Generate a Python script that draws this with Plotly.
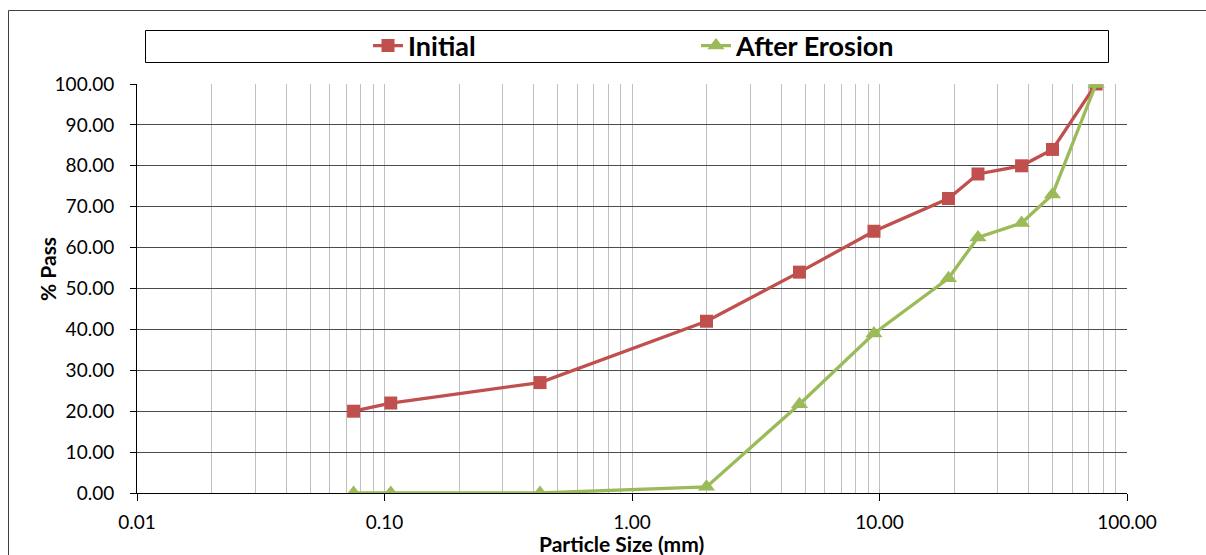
import plotly.graph_objects as go

# Data
sizes_mm = [0.075, 0.106, 0.425, 2.0, 4.75, 9.5, 19.0, 25.0, 37.5, 50.0, 75.0]
initial_pass = [20, 22, 27, 42, 54, 64, 72, 78, 80, 84, 100]
after_erosion_pass = [0, 0, 0, 1.5, 21.7, 39, 52.5, 62.5, 66, 73, 100]

x_major_vals = [0.01, 0.1, 1, 10, 100]
x_major_text = ["0.01", "0.10", "1.00", "10.00", "100.00"]
y_tick_vals = [0, 10, 20, 30, 40, 50, 60, 70, 80, 90, 100]

RED = "#C0504D"
GREEN = "#9BBB59"
FONT = "Lato"

# minor grid positions (2..9 in each decade)
minor_vals = [m * d for d in [0.01, 0.1, 1, 10] for m in range(2, 10)]

# figure and plot area in page pixels (body margin removed below)
W, H = 1206, 555
PX_L, PX_R, PX_T, PX_B = 137, 1127, 84, 493
L, T, R, B = PX_L, PX_T, W - PX_R, H - PX_B
PW = PX_R - PX_L
PH = PX_B - PX_T


def px_x(p):
    return (p - PX_L) / PW


def px_y(p):
    return (PX_B - p) / PH


fig = go.Figure()
fig.add_trace(go.Scatter(
    x=sizes_mm, y=initial_pass, name="Initial", mode="lines+markers",
    line=dict(color=RED, width=3.3),
    marker=dict(symbol="square", size=13, color=RED),
    legendwidth=283,
))
fig.add_trace(go.Scatter(
    x=sizes_mm, y=after_erosion_pass, name="After Erosion", mode="lines+markers",
    line=dict(color=GREEN, width=3.3),
    marker=dict(symbol="triangle-up", size=15, color=GREEN),
))

fig.update_layout(
    width=W, height=H,
    margin=dict(l=L, r=R, t=T, b=B, autoexpand=False),
    paper_bgcolor="white", plot_bgcolor="white",
    font=dict(family=FONT, color="black", size=19),
    showlegend=True,
    legend=dict(
        orientation="h", x=px_x(368), xanchor="left", y=px_y(46), yanchor="middle",
        bgcolor="rgba(0,0,0,0)", borderwidth=0,
        font=dict(family=FONT, size=27, weight="bold", color="black"),
        itemwidth=30, tracegroupgap=0,
    ),
    xaxis=dict(
        type="log", range=[-2, 2],
        tickmode="array", tickvals=x_major_vals, ticktext=x_major_text,
        ticks="outside", ticklen=7, tickcolor="black", tickwidth=1,
        showline=True, linecolor="black", linewidth=1,
        showgrid=True, gridcolor="#BFBFBF", gridwidth=1,
        minor=dict(tickmode="array", tickvals=minor_vals, showgrid=True,
                   gridcolor="#BFBFBF", gridwidth=1, ticks=""),
        tickfont=dict(family=FONT, size=19, color="black"),
        ticklabelstandoff=5,
        zeroline=False,
    ),
    yaxis=dict(
        range=[0, 100], tickmode="array", tickvals=y_tick_vals, tickformat=".2f",
        ticks="outside", ticklen=6, tickcolor="black", tickwidth=1,
        showline=True, linecolor="black", linewidth=1,
        showgrid=True, gridcolor="#4A4A4A", gridwidth=1,
        tickfont=dict(family=FONT, size=19, color="black"),
        ticklabelstandoff=12,
        zeroline=False,
    ),
    shapes=[
        # outer chart border: top and left edges (right/bottom lie outside the view)
        dict(type="line", xref="paper", yref="paper",
             x0=px_x(8.5), x1=px_x(1206), y0=px_y(10.5), y1=px_y(10.5),
             line=dict(color="#404040", width=1), layer="below"),
        dict(type="line", xref="paper", yref="paper",
             x0=px_x(8.5), x1=px_x(8.5), y0=px_y(10.5), y1=px_y(555),
             line=dict(color="#404040", width=1), layer="below"),
        # legend box
        dict(type="rect", xref="paper", yref="paper",
             x0=px_x(145.5), x1=px_x(1108.5), y0=px_y(30.5), y1=px_y(62.5),
             line=dict(color="black", width=1), fillcolor="rgba(0,0,0,0)"),
    ],
    annotations=[
        dict(text="% Pass", xref="paper", yref="paper", x=px_x(47), y=px_y(269),
             xanchor="center", yanchor="middle", textangle=-90, showarrow=False,
             font=dict(family=FONT, size=21, weight="bold", color="black")),
        dict(text="Particle Size (mm)", xref="paper", yref="paper", x=px_x(621), y=px_y(543),
             xanchor="center", yanchor="middle", showarrow=False,
             font=dict(family=FONT, size=21, weight="bold", color="black")),
    ],
)

fig.write_html(
    "out.html",
    config={"displayModeBar": False},
    post_script=(
        "document.documentElement.style.margin='0px';"
        "document.documentElement.style.overflow='hidden';"
        "document.body.style.margin='0px';"
        "document.body.style.overflow='hidden';"
    ),
)
